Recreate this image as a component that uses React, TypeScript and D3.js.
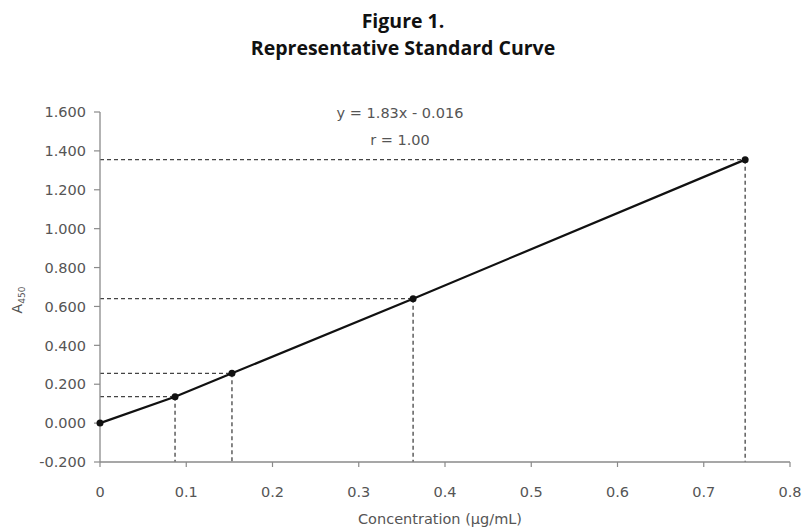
import React from "react";
import * as d3 from "d3";

const concentrations = [0, 0.087, 0.153, 0.363, 0.748];
const absorbances = [0.0, 0.136, 0.256, 0.64, 1.355];
const xTicks = [0, 0.1, 0.2, 0.3, 0.4, 0.5, 0.6, 0.7, 0.8];
const yTicks = [-0.2, 0, 0.2, 0.4, 0.6, 0.8, 1.0, 1.2, 1.4, 1.6];
const titleLines = ["Figure 1.", "Representative Standard Curve"];
const equationLines = ["y = 1.83x - 0.016", "r = 1.00"];

export default function App() {
  const W = 807, H = 531;
  const x = d3.scaleLinear().domain([0, 0.8]).range([100, 790]);
  const y = d3.scaleLinear().domain([-0.2, 1.6]).range([462, 112]);
  const pts = concentrations.map((c, i) => [c, absorbances[i]] as [number, number]);
  const line = d3.line<[number, number]>().x(d => x(d[0])).y(d => y(d[1]));
  const font = "'DejaVu Sans', Verdana, sans-serif";
  const axisColor = "#8a8a8a";
  const textColor = "#555";
  return (
    <svg width={W} height={H} style={{ position: "absolute", left: 0, top: 0, background: "#fff" }}>
      <rect width={W} height={H} fill="#fff" />
      {titleLines.map((t, i) => (
        <text key={t} x={403} y={28 + i * 27} textAnchor="middle" fontFamily="'Open Sans', sans-serif" fontWeight="bold" fontSize={19.5} fill="#111">{t}</text>
      ))}
      {/* dashed guide lines */}
      {pts.slice(1).map((p, i) => (
        <g key={i} stroke="#444" strokeWidth={1.3} strokeDasharray="4,3">
          <line x1={x(0)} x2={x(p[0])} y1={y(p[1])} y2={y(p[1])} />
          <line x1={x(p[0])} x2={x(p[0])} y1={y(p[1])} y2={y(-0.2)} />
        </g>
      ))}
      {/* axes */}
      <line x1={x(0)} x2={x(0)} y1={y(1.6)} y2={y(-0.2)} stroke={axisColor} strokeWidth={1.3} />
      <line x1={x(0)} x2={x(0.8)} y1={y(-0.2)} y2={y(-0.2)} stroke={axisColor} strokeWidth={1.3} />
      {yTicks.map(t => (
        <g key={t}>
          <line x1={x(0) - 6} x2={x(0)} y1={y(t)} y2={y(t)} stroke={axisColor} strokeWidth={1.2} />
          <text x={x(0) - 14} y={y(t)} dy="0.36em" textAnchor="end" fontFamily={font} fontSize={14.5} fill={textColor}>{t.toFixed(3)}</text>
        </g>
      ))}
      {xTicks.map(t => (
        <g key={t}>
          <line x1={x(t)} x2={x(t)} y1={y(-0.2)} y2={y(-0.2) + 5} stroke={axisColor} strokeWidth={1.2} />
          <text x={x(t)} y={y(-0.2) + 35} textAnchor="middle" fontFamily={font} fontSize={14.5} fill={textColor}>{t === 0 ? "0" : String(t)}</text>
        </g>
      ))}
      <text x={440} y={524} textAnchor="middle" fontFamily={font} fontSize={14.5} fill={textColor}>Concentration (µg/mL)</text>
      <text transform={`translate(22,300) rotate(-90)`} textAnchor="middle" fontFamily={font} fontSize={14} fill={textColor}>
        A<tspan fontSize={9} dy={3}>450</tspan>
      </text>
      {/* fit line */}
      <path d={line(pts) || ""} fill="none" stroke="#111" strokeWidth={2.2} />
      {pts.map((p, i) => (
        <circle key={i} cx={x(p[0])} cy={y(p[1])} r={3.5} fill="#111" />
      ))}
      {equationLines.map((t, i) => (
        <text key={t} x={400} y={118 + i * 27} textAnchor="middle" fontFamily={font} fontSize={14.5} fill={textColor}>{t}</text>
      ))}
    </svg>
  );
}
